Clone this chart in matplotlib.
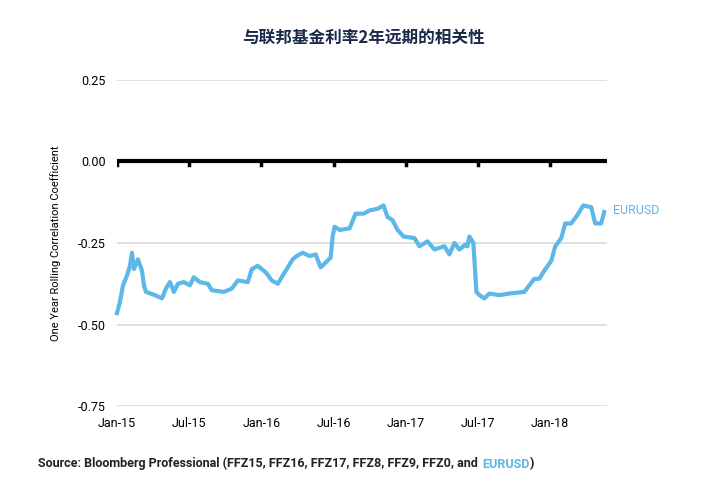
import numpy as np
import matplotlib.pyplot as plt

plt.rcParams['font.family'] = ['Roboto', 'Noto Sans CJK SC', 'DejaVu Sans']

# pixel-read positions (x in px from Jan-15) converted to months since Jan-15
px_x = [117, 120, 123, 127, 130, 132, 134, 138, 142, 144, 146, 155, 162, 166, 170, 174, 178,
        184, 190, 194, 200, 208, 212, 224, 232, 238, 248, 252, 258, 266, 272, 278, 286, 293,
        297, 303, 310, 316, 321, 326, 331, 333, 335, 340, 350, 356, 364, 370, 378, 384, 388,
        393, 398, 404, 415, 420, 428, 435, 445, 450, 455, 460, 466, 468, 470, 474, 477, 480,
        485, 490, 500, 510, 525, 530, 535, 540, 545, 552, 556, 562, 566, 572, 578, 584, 592,
        596, 602, 605]
corr = [-0.465, -0.43, -0.38, -0.35, -0.32, -0.28, -0.33, -0.30, -0.335, -0.38, -0.40, -0.41,
        -0.42, -0.39, -0.37, -0.40, -0.375, -0.37, -0.38, -0.355, -0.37, -0.375, -0.395, -0.40,
        -0.39, -0.365, -0.37, -0.33, -0.32, -0.34, -0.365, -0.375, -0.335, -0.30, -0.29, -0.28,
        -0.29, -0.285, -0.325, -0.31, -0.295, -0.23, -0.20, -0.21, -0.205, -0.16, -0.16, -0.15,
        -0.145, -0.135, -0.17, -0.18, -0.21, -0.23, -0.235, -0.26, -0.245, -0.27, -0.26, -0.285,
        -0.25, -0.27, -0.255, -0.26, -0.23, -0.25, -0.40, -0.41, -0.42, -0.405, -0.41, -0.405,
        -0.40, -0.38, -0.36, -0.36, -0.335, -0.305, -0.26, -0.235, -0.19, -0.19, -0.165, -0.135,
        -0.14, -0.19, -0.19, -0.155]
months = [(p - 117) / 12.05 for p in px_x]

tick_pos = [0, 6, 12, 18, 24, 30, 36]
tick_labels = ['Jan-15', 'Jul-15', 'Jan-16', 'Jul-16', 'Jan-17', 'Jul-17', 'Jan-18']
y_ticks = [0.25, 0.0, -0.25, -0.5, -0.75]
y_labels = ['0.25', '0.00', '-0.25', '-0.50', '-0.75']

blue = '#5BB8E8'
fig = plt.figure(figsize=(7.2, 5.0), dpi=100)
ax = fig.add_axes([0.1625, 0.188, 0.68, 0.652])
for yv in y_ticks:
    if yv == 0:
        ax.axhline(0, color='black', lw=3, zorder=2)
    else:
        ax.axhline(yv, color='#d9d9d9', lw=1.2, zorder=1)
for t in tick_pos:
    ax.plot([t, t], [0, -0.012], color='black', lw=2.5, zorder=2)
ax.plot(months, corr, color=blue, lw=3, zorder=3, clip_on=False)
ax.text(months[-1] + 0.7, -0.15, 'EURUSD', color=blue, fontsize=9, va='center')

ax.set_xlim(0, 40.7)
ax.set_ylim(-0.75, 0.25)
ax.set_xticks(tick_pos, tick_labels)
ax.set_yticks(y_ticks, y_labels)
ax.tick_params(length=0, labelsize=9, pad=8)
for s in ax.spines.values():
    s.set_visible(False)
ax.set_ylabel('One Year Rolling Correlation Coefficient', fontsize=8, labelpad=12)

fig.text(0.505, 0.915, '与联邦基金利率2年远期的相关性', ha='center', fontsize=12,
         fontweight='bold', color='#1b2a4a', family=['Noto Sans CJK SC', 'DejaVu Sans'])

# source line in three pieces, placed one after another
r = fig.canvas.get_renderer()
x0 = 0.053
parts = [('Source: Bloomberg Professional (FFZ15, FFZ16, FFZ17, FFZ8, FFZ9, FFZ0, and ', '#222222'),
         ('EURUSD', blue), (')', '#222222')]
for s, c in parts:
    t = fig.text(x0, 0.065, s, fontsize=9, fontweight='bold', color=c)
    bb = t.get_window_extent(renderer=r)
    x0 += bb.width / fig.bbox.width
    if s.endswith(' '):
        x0 += 0.002

fig.savefig('out.png')
